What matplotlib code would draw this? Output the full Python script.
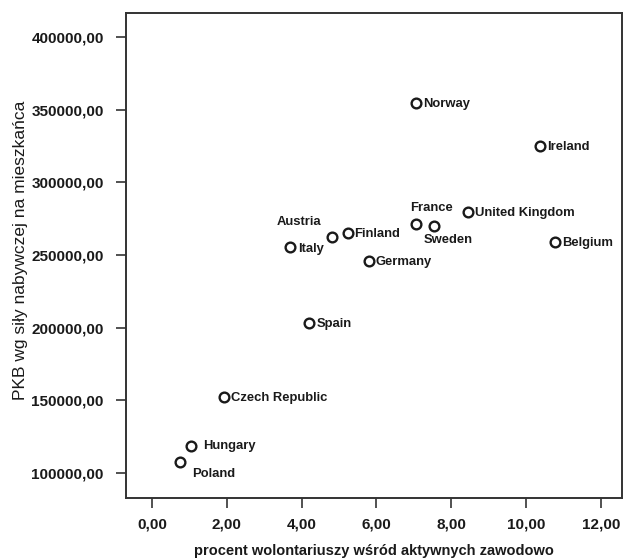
import matplotlib
matplotlib.use('Agg')
import matplotlib.pyplot as plt
from matplotlib.ticker import FuncFormatter

# Volunteering share vs GDP (PPP) per capita, by country
countries = ['Norway', 'Ireland', 'France', 'Sweden', 'United Kingdom', 'Belgium',
             'Finland', 'Austria', 'Italy', 'Germany', 'Spain', 'Czech Republic',
             'Hungary', 'Poland']
volunteers = [7.07, 10.37, 7.07, 7.55, 8.45, 10.77,
              5.23, 4.80, 3.68, 5.79, 4.21, 1.92,
              1.04, 0.75]
gdp = [354600, 325000, 271400, 270000, 279600, 259000,
       265200, 262500, 255600, 246000, 203300, 152400,
       118700, 107700]

# label offsets in pixels (dx, dy, ha, va)
label_pos = {
    'France': (-6, 10, 'left', 'bottom'),
    'Sweden': (-11, -8, 'left', 'top'),
    'Austria': (-10, 9, 'right', 'bottom'),
    'Italy': (9, -2, 'left', 'center'),
    'Hungary': (12, 0, 'left', 'center'),
    'Poland': (12, -12, 'left', 'center'),
}

plt.rcParams['font.family'] = ['Liberation Sans', 'DejaVu Sans']

fig = plt.figure(figsize=(6.24, 5.6), dpi=100)
ax = fig.add_axes([0.2019, 0.1107, 0.7949, 0.8661])

ax.plot(volunteers, gdp, linestyle='none', marker='o', markersize=7,
        markerfacecolor='white', markeredgecolor='#1a1a1a', markeredgewidth=1.7)

for name, x, y in zip(countries, volunteers, gdp):
    dx, dy, ha, va = label_pos.get(name, (7, -1, 'left', 'center'))
    ax.annotate(name, (x, y), xytext=(dx, dy), textcoords='offset pixels',
                ha=ha, va=va, fontsize=9.4, fontweight='bold', color='#1a1a1a')

ax.set_xlim(-0.69, 12.56)
ax.set_ylim(82800, 416500)
ax.set_xticks([0, 2, 4, 6, 8, 10, 12])
ax.set_yticks([100000, 150000, 200000, 250000, 300000, 350000, 400000])

fmt = FuncFormatter(lambda v, p: f'{v:.2f}'.replace('.', ','))
ax.xaxis.set_major_formatter(fmt)
ax.yaxis.set_major_formatter(fmt)

ax.tick_params(axis='both', direction='out', length=7, width=1.2, color='#333333',
               labelsize=11, labelcolor='#1a1a1a')
ax.tick_params(axis='x', pad=7)
ax.tick_params(axis='y', pad=9)
for lbl in ax.get_xticklabels() + ax.get_yticklabels():
    lbl.set_fontweight('bold')

for side in ax.spines.values():
    side.set_linewidth(1.4)
    side.set_color('#333333')

ax.set_xlabel('procent wolontariuszy wśród aktywnych zawodowo', fontsize=10.5,
              fontweight='bold', color='#1a1a1a', labelpad=9)
ax.set_ylabel('PKB wg siły nabywczej na mieszkańca', fontsize=12.5,
              color='#1a1a1a')
ax.yaxis.set_label_coords(-0.197, 0.51)

fig.savefig('out.png', dpi=100)
